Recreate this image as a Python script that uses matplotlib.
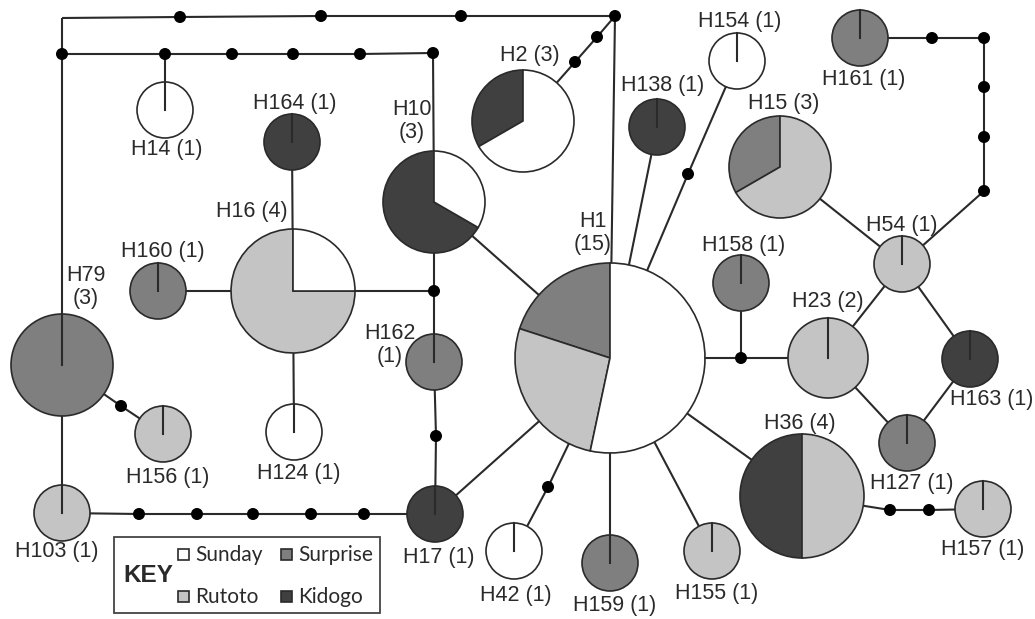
import matplotlib
matplotlib.use("Agg")
import matplotlib.pyplot as plt
from matplotlib.patches import Wedge, Circle, Rectangle

# haplotypes and number of fish from each site
haplotypes = ["H1", "H2", "H10", "H14", "H15", "H16", "H17", "H23", "H36", "H42", "H54", "H79",
              "H103", "H124", "H127", "H138", "H154", "H155", "H156", "H157", "H158", "H159",
              "H160", "H161", "H162", "H163", "H164"]
sunday   = [8, 2, 1, 1, 0, 1, 0, 0, 0, 1, 0, 0, 0, 1, 0, 0, 1, 0, 0, 0, 0, 0, 0, 0, 0, 0, 0]
surprise = [3, 0, 0, 0, 1, 0, 0, 0, 0, 0, 0, 3, 0, 0, 1, 0, 0, 0, 0, 0, 1, 1, 1, 1, 1, 0, 0]
rutoto   = [4, 0, 0, 0, 2, 3, 0, 2, 2, 0, 1, 0, 1, 0, 0, 0, 0, 1, 1, 1, 0, 0, 0, 0, 0, 0, 0]
kidogo   = [0, 1, 2, 0, 0, 0, 1, 0, 2, 0, 0, 0, 0, 0, 0, 1, 0, 0, 0, 0, 0, 0, 0, 0, 0, 1, 1]
sites = ["Sunday", "Surprise", "Rutoto", "Kidogo"]

# layout of the network (pixel coords, y down)
node_xy = {
    "H1": (610, 358), "H2": (523, 121), "H10": (434, 202), "H14": (165, 110),
    "H15": (780, 167), "H16": (293, 291), "H17": (435, 514), "H23": (828, 358),
    "H36": (802, 496), "H42": (514, 551), "H54": (902, 264), "H79": (62, 365),
    "H103": (62, 513), "H124": (294, 432), "H127": (907, 443), "H138": (657, 127),
    "H154": (737, 61), "H155": (712, 551), "H156": (163, 434), "H157": (983, 509),
    "H158": (741, 283), "H159": (610, 563), "H160": (158, 291), "H161": (860, 38),
    "H162": (434, 362), "H163": (970, 359), "H164": (292, 142),
}
radius = {1: 28, 2: 40, 3: 51, 4: 62, 15: 95}

# median vectors / mutation steps (black dots), "c0" is a bare corner
steps = {
    "c0": (62, 18), "t1": (180, 17), "t2": (321, 16), "t3": (461, 16), "tr": (615, 16),
    "a0": (62, 54), "a1": (165, 54), "a2": (232, 54), "a3": (293, 54), "a4": (360, 54),
    "a5": (433, 53), "b1": (434, 291), "b2": (436, 436), "m79": (121, 406),
    "w1": (139, 514), "w2": (197, 514), "w3": (253, 514), "w4": (311, 514), "w5": (364, 514),
    "h2a": (575, 62), "h2b": (597, 37), "m154": (688, 174), "j158": (741, 358),
    "v1": (932, 38), "v2": (984, 38), "v3": (984, 87), "v4": (984, 137), "v5": (984, 191),
    "s1": (890, 510), "s2": (929, 510), "m42": (548, 487),
}

chains = [
    ["c0", "t1", "t2", "t3", "tr", "H1"],
    ["c0", "a0", "H79", "H103", "w1", "w2", "w3", "w4", "w5", "H17"],
    ["a0", "a1", "a2", "a3", "a4", "a5", "H10", "b1", "H162", "b2", "H17"],
    ["a1", "H14"], ["H16", "b1"], ["H164", "H16", "H124"], ["H160", "H16"],
    ["H79", "m79", "H156"], ["H17", "H1"], ["H10", "H1"], ["H2", "h2a", "h2b", "tr"],
    ["H138", "H1"], ["H154", "m154", "H1"], ["H1", "j158", "H23"], ["j158", "H158"],
    ["H15", "H54", "H163", "H127", "H23", "H54"],
    ["H54", "v5", "v4", "v3", "v2", "v1", "H161"],
    ["H1", "H36", "s1", "s2", "H157"], ["H1", "m42", "H42"], ["H1", "H159"], ["H1", "H155"],
]

labels = {
    "H1": (593, 233, "H1\n(15)"), "H2": (530, 56, "H2 (3)"), "H10": (412, 121, "H10\n(3)"),
    "H14": (167, 150, "H14 (1)"), "H15": (784, 103, "H15 (3)"), "H16": (252, 212, "H16 (4)"),
    "H17": (439, 557, "H17 (1)"), "H23": (828, 302, "H23 (2)"), "H36": (800, 423, "H36 (4)"),
    "H42": (516, 595, "H42 (1)"), "H54": (902, 225, "H54 (1)"), "H79": (86, 287, "H79\n(3)"),
    "H103": (57, 552, "H103 (1)"), "H124": (299, 473, "H124 (1)"), "H127": (912, 483, "H127 (1)"),
    "H138": (663, 86, "H138 (1)"), "H154": (740, 22, "H154 (1)"), "H155": (717, 593, "H155 (1)"),
    "H156": (168, 477, "H156 (1)"), "H157": (983, 550, "H157 (1)"), "H158": (744, 245, "H158 (1)"),
    "H159": (615, 605, "H159 (1)"), "H160": (163, 252, "H160 (1)"), "H161": (864, 80, "H161 (1)"),
    "H162": (390, 345, "H162\n(1)"), "H164": (295, 104, "H164 (1)"),
}

colors = {"Sunday": "#ffffff", "Surprise": "#7f7f7f", "Rutoto": "#c4c4c4", "Kidogo": "#404040"}
pie_order = ["Surprise", "Kidogo", "Rutoto", "Sunday"]  # counter-clockwise from the top
ink = "#2a2a2a"

fig = plt.figure(figsize=(10.35, 6.19), dpi=100)
ax = fig.add_axes([0, 0, 1, 1])
ax.set_xlim(0, 1035)
ax.set_ylim(619, 0)
ax.axis("off")


def pos(name):
    return node_xy[name] if name in node_xy else steps[name]


for chain in chains:
    xs = [pos(n)[0] for n in chain]
    ys = [pos(n)[1] for n in chain]
    ax.plot(xs, ys, color=ink, lw=1.5, zorder=1, solid_capstyle="butt")

for name, (x, y) in steps.items():
    if name != "c0":
        ax.add_patch(Circle((x, y), 6, facecolor="black", edgecolor="none", zorder=4))

counts = dict(zip(sites, [sunday, surprise, rutoto, kidogo]))
for i, h in enumerate(haplotypes):
    cx, cy = node_xy[h]
    vals = {s: counts[s][i] for s in sites}
    total = sum(vals.values())
    r = radius[total]
    start = 90.0
    for s in pie_order:
        if vals[s] == 0:
            continue
        span = 360.0 * vals[s] / total
        # y axis is flipped, so screen angles turn into negative data angles
        ax.add_patch(Wedge((cx, cy), r, -(start + span), -start, facecolor=colors[s],
                           edgecolor=ink, lw=1.2, zorder=3))
        start += span
    if max(vals.values()) == total:
        ax.plot([cx, cx], [cy, cy - r], color=ink, lw=1.5, zorder=3.5)

for h, (x, y, txt) in labels.items():
    ax.text(x, y, txt, ha="center", va="center", fontsize=15.5, family="Liberation Sans",
            color=ink, linespacing=1.1, zorder=5)
ax.text(950, 399, "H163 (1)", ha="left", va="center", fontsize=15.5, family="Liberation Sans",
        color=ink, zorder=5)

# key
ax.add_patch(Rectangle((114, 537), 266, 76, facecolor="white", edgecolor="#444444", lw=1.3, zorder=5))
ax.text(148, 576, "KEY", ha="center", va="center", fontsize=17.5, fontweight="bold",
        family="Liberation Sans", color=ink, zorder=6)
key_xy = {"Sunday": (183, 554), "Surprise": (286, 554), "Rutoto": (183, 596), "Kidogo": (286, 596)}
for s in sites:
    x, y = key_xy[s]
    ax.add_patch(Rectangle((x - 5.5, y - 5.5), 11, 11, facecolor=colors[s], edgecolor=ink,
                           lw=1.2, zorder=6))
    ax.text(x + 12, y + 1, s, ha="left", va="center", fontsize=15, family="Lato",
            color=ink, zorder=6)

fig.savefig("out.png", dpi=100)
